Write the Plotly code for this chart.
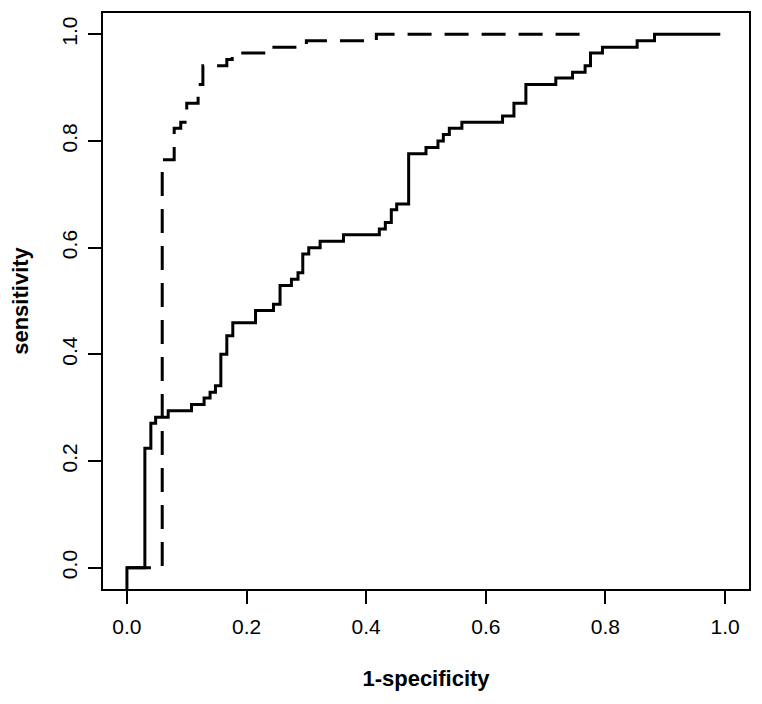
import plotly.graph_objects as go

# ---- data ----
# model A (solid): points of the step ROC curve (1-specificity, sensitivity)
fpr_solid = [0.0, 0.0, 0.030, 0.040, 0.048, 0.069, 0.108, 0.129, 0.139, 0.148,
             0.157, 0.167, 0.177, 0.215, 0.245, 0.256, 0.275, 0.286, 0.294, 0.304,
             0.323, 0.362, 0.422, 0.432, 0.442, 0.451, 0.471, 0.500, 0.520, 0.529,
             0.539, 0.560, 0.628, 0.647, 0.667, 0.717, 0.745, 0.766, 0.775, 0.795,
             0.853, 0.882, 0.992]
tpr_solid = [-0.04, 0.0, 0.224, 0.271, 0.282, 0.294, 0.306, 0.318, 0.329, 0.341,
             0.400, 0.435, 0.459, 0.482, 0.494, 0.529, 0.541, 0.553, 0.588, 0.600,
             0.612, 0.624, 0.635, 0.647, 0.671, 0.682, 0.776, 0.788, 0.800, 0.812,
             0.824, 0.835, 0.847, 0.871, 0.906, 0.918, 0.929, 0.941, 0.965, 0.976,
             0.988, 1.0, 1.0]

# model B (dashed)
fpr_dashed = [0.0, 0.059, 0.079, 0.090, 0.100, 0.119, 0.127, 0.167, 0.176,
              0.237, 0.300, 0.417, 0.777]
tpr_dashed = [0.0, 0.765, 0.824, 0.835, 0.871, 0.906, 0.941, 0.953, 0.965,
              0.976, 0.988, 1.0, 1.0]

tick_vals = [0.0, 0.2, 0.4, 0.6, 0.8, 1.0]
tick_text = ["0.0", "0.2", "0.4", "0.6", "0.8", "1.0"]

x_title = "1-specificity"
y_title = "sensitivity"

FONT = "Liberation Sans, Arial, sans-serif"

fig = go.Figure()
fig.add_trace(go.Scatter(x=fpr_solid, y=tpr_solid, mode="lines", line_shape="hv",
                         line=dict(color="black", width=3), showlegend=False,
                         cliponaxis=True))
fig.add_trace(go.Scatter(x=fpr_dashed, y=tpr_dashed, mode="lines", line_shape="hv",
                         line=dict(color="black", width=3, dash="24px,13px"),
                         showlegend=False))

axis_common = dict(
    range=[-0.04, 1.04], tickvals=tick_vals, ticktext=tick_text,
    showline=True, mirror=True, linecolor="black", linewidth=2,
    ticks="outside", ticklen=13, tickwidth=1.5, tickcolor="black",
    showgrid=False, zeroline=False,
    tickfont=dict(family=FONT, size=21, color="black"),
)

fig.update_layout(
    width=762, height=704,
    margin=dict(l=103, r=11, t=13, b=115),
    paper_bgcolor="white", plot_bgcolor="white",
    xaxis=dict(**axis_common, ticklabelstandoff=5,
               title=dict(text=x_title, standoff=33,
                          font=dict(family=FONT, size=22, color="black", weight="bold"))),
    yaxis=dict(**axis_common, tickangle=-90, ticklabelstandoff=3,
               title=dict(text=y_title, standoff=23,
                          font=dict(family=FONT, size=22, color="black", weight="bold"))),
)

fig.write_html("out.html", config={"displayModeBar": False},
               post_script="document.body.style.margin='0';")
